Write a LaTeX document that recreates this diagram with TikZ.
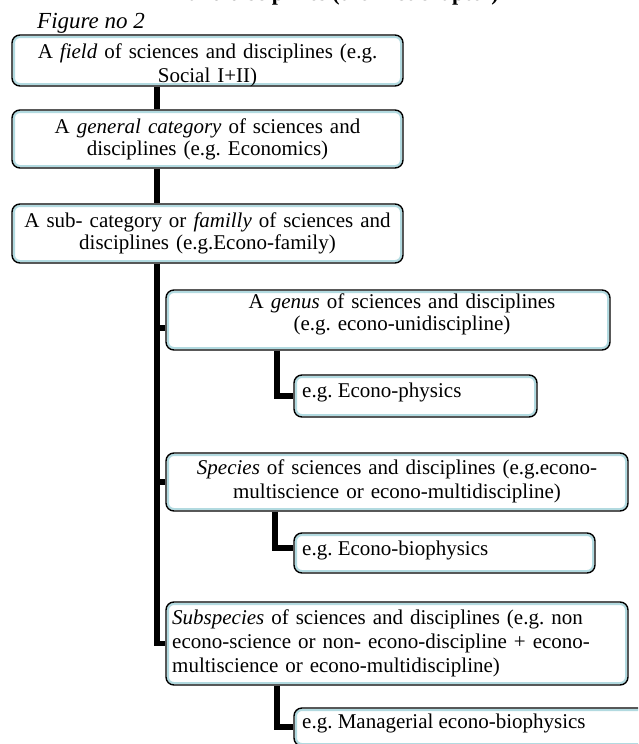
\documentclass[tikz,border=0pt]{standalone}
\usepackage{fontspec}
\setmainfont{Liberation Serif}
\definecolor{boxblue}{RGB}{178,218,224}
\frenchspacing
\begin{document}
\begin{tikzpicture}[x=1pt,y=-1pt,
  box/.style={draw=black, line width=1.4pt, rounded corners=8pt, fill=white, inner sep=0pt,
    path picture={\draw[boxblue, line width=2.2pt, rounded corners=6pt]
      ([shift={(1.9pt,-1.9pt)}]path picture bounding box.north west) rectangle
      ([shift={(-1.9pt,1.9pt)}]path picture bounding box.south east);}},
  txt/.style={inner sep=0pt, font=\fontsize{21}{24}\selectfont},
  txtb/.style={inner sep=0pt, font=\fontsize{21}{22}\selectfont},
  conn/.style={draw=black, line width=5.2pt, line join=miter}]
\useasboundingbox (0,0) rectangle (638,744);
\clip (0,0) rectangle (638,744);
\fill[white] (0,0) rectangle (638,744);
% title (cut off at the top)
\node[inner sep=0pt, anchor=base west, font=\fontsize{22}{24}\selectfont\bfseries] (title) at (188,1) {and disciplines (the first chapter)};
\node[inner sep=0pt, anchor=base west, font=\fontsize{23}{24}\selectfont\itshape] (fig) at (37,28) {Figure no 2};
% boxes
\node[box, minimum width=391pt, minimum height=51pt] (b1) at (207.5,60.5) {};
\node[box, minimum width=391pt, minimum height=58pt] (b2) at (207.5,139) {};
\node[box, minimum width=391pt, minimum height=59pt] (b3) at (207.5,233.5) {};
\node[box, minimum width=444pt, minimum height=60pt] (b4) at (388,320) {};
\node[box, minimum width=243pt, minimum height=42pt] (b5) at (415.5,396) {};
\node[box, minimum width=462pt, minimum height=58pt] (b6) at (397,482) {};
\node[box, minimum width=301pt, minimum height=40pt] (b7) at (444.5,553) {};
\node[box, minimum width=462pt, minimum height=83pt] (b8) at (397,643.5) {};
\node[box, minimum width=406pt, minimum height=38pt] (b9) at (497,727) {};
% texts
\node[txt, text width=420pt, align=center, anchor=base] (t1) at (207.5,58)
  {A \textit{field} of sciences and disciplines (e.g.\\ Social I+II)};
\node[txtb, text width=420pt, align=center, anchor=base] (t2) at (207.5,133)
  {A \textit{general category} of sciences and\\ disciplines (e.g. Economics)};
\node[txtb, text width=420pt, align=center, anchor=base] (t3) at (207.5,227)
  {A sub- category or \textit{familly} of sciences and\\ disciplines (e.g.Econo-family)};
\node[txtb, text width=420pt, align=center, anchor=base] (t4) at (402,308)
  {A \textit{genus} of sciences and disciplines\\ (e.g. econo-unidiscipline)};
\node[txt, anchor=base west] (t5) at (302,397) {e.g. Econo-physics};
\node[txt, text width=460pt, align=center, anchor=base] (t6) at (397,474)
  {\textit{Species} of sciences and disciplines (e.g.econo-\\ multiscience or econo-multidiscipline)};
\node[txt, anchor=base west] (t7) at (302,555) {e.g. Econo-biophysics};
\node[txt, text width=460pt, align=left, anchor=base west] (t8) at (172,624)
  {\textit{Subspecies} of sciences and disciplines (e.g. non\\ econo-science or non- econo-discipline + econo-\\ multiscience or econo-multidiscipline)};
\node[txt, anchor=base west] (t9) at (302,728) {e.g. Managerial econo-biophysics};
% connectors
\coordinate (tk) at (157,0);
\coordinate (sx) at (277,0);
\coordinate (sy) at (275,0);
\draw[conn] (b1.south -| tk) -- (b2.north -| tk);
\draw[conn] (b2.south -| tk) -- (b3.north -| tk);
\draw[conn] (b3.south -| tk) |- (b8.west);
\draw[conn] (tk |- b4.west) ++(0,8) -- ([yshift=-8pt]b4.west);
\draw[conn] (tk |- b6.west) -- (b6.west);
\draw[conn] (b4.south -| sx) |- (b5.west);
\draw[conn] (b6.south -| sy) |- ([yshift=5pt]b7.west);
\draw[conn] (b8.south -| sx) |- (b9.west);
\end{tikzpicture}
\end{document}
